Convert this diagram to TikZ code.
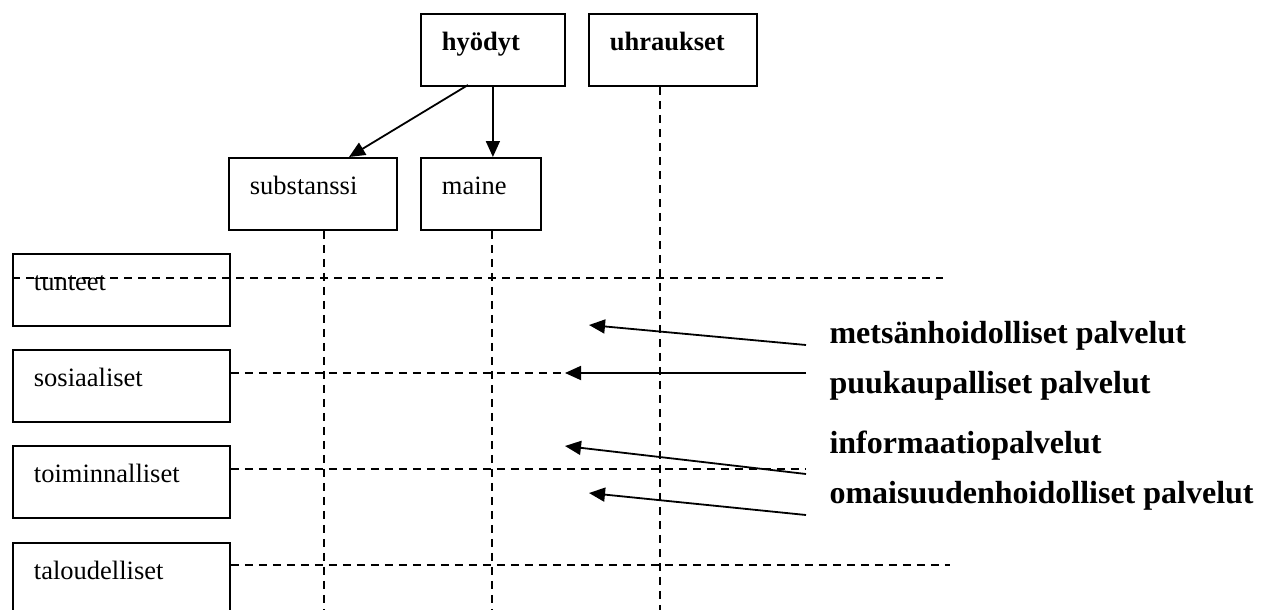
\documentclass[tikz,border=0pt]{standalone}
\usepackage{fontspec}
\setmainfont{Liberation Serif}
\usetikzlibrary{arrows.meta}
\begin{document}
\begin{tikzpicture}[x=1pt,y=-1pt,
  box/.style={draw,line width=1.8pt,anchor=north west,inner ysep=0pt,inner xsep=21pt,
    text height=37pt,text depth=35pt,align=left,font=\fontsize{26.5}{30}\selectfont},
  topbox/.style={box,font=\fontsize{26.5}{30}\selectfont\bfseries},
  guide/.style={line width=1.8pt,dash pattern=on 8pt off 6pt},
  link/.style={line width=1.8pt,-{Triangle[length=16pt,width=14pt]}},
  service/.style={anchor=base west,font=\fontsize{32}{36}\selectfont\bfseries}]
\useasboundingbox (0,0) rectangle (1266,610);
% top row
\node[topbox,text width=102pt] (hy) at (420,13) {hyödyt};
\node[topbox,text width=126pt] (uh) at (588,13) {uhraukset};
% second row
\node[box,text width=126pt] (sub) at (228,157) {substanssi};
\node[box,text width=78pt] (mai) at (420,157) {maine};
% left column
\node[box,text width=175pt] (tun) at (12,253) {tunteet};
\node[box,text width=175pt] (sos) at (12,349) {sosiaaliset};
\node[box,text width=175pt] (toi) at (12,445) {toiminnalliset};
\node[box,text width=175pt] (tal) at (12,542) {taloudelliset};
% service labels
\node[service] (met) at (826,343) {metsänhoidolliset palvelut};
\node[service] (puu) at (826,393) {puukaupalliset palvelut};
\node[service] (inf) at (826,453) {informaatiopalvelut};
\node[service] (oma) at (826,503) {omaisuudenhoidolliset palvelut};
% guide line end points
\coordinate (subV) at (324,610);
\coordinate (maiV) at (492,610);
\coordinate (uhV) at (660,610);
\coordinate (tunE) at (943,278);
\coordinate (sosE) at (565,373);
\coordinate (toiE) at (806,469);
\coordinate (talE) at (950,565);
% vertical dashed guides
\draw[guide] (subV |- sub.south) -- (subV);
\draw[guide] (maiV |- mai.south) -- (maiV);
\draw[guide] (uhV |- uh.south) -- (uhV);
% horizontal dashed guides
\draw[guide] (tun.west |- tunE) -- (tunE);
\draw[guide] (sos.east |- sosE) -- (sosE);
\draw[guide] (toi.east |- toiE) -- (toiE);
\draw[guide] (tal.east |- talE) -- (talE);
% arrows from the top box
\coordinate (hyS) at (468,85);
\coordinate (subT) at (349,157);
\draw[link] (hyS) -- (subT);
\draw[link] (hy.south) -- (hy.south |- mai.north);
% service arrows
\coordinate (metA) at (806,345);
\coordinate (metB) at (589,325);
\coordinate (puuA) at (806,373);
\coordinate (infA) at (806,474);
\coordinate (infB) at (565,446);
\coordinate (omaA) at (806,515);
\coordinate (omaB) at (589,493);
\draw[link] (metA) -- (metB);
\draw[link] (puuA) -- (sosE);
\draw[link] (infA) -- (infB);
\draw[link] (omaA) -- (omaB);
\end{tikzpicture}
\end{document}
